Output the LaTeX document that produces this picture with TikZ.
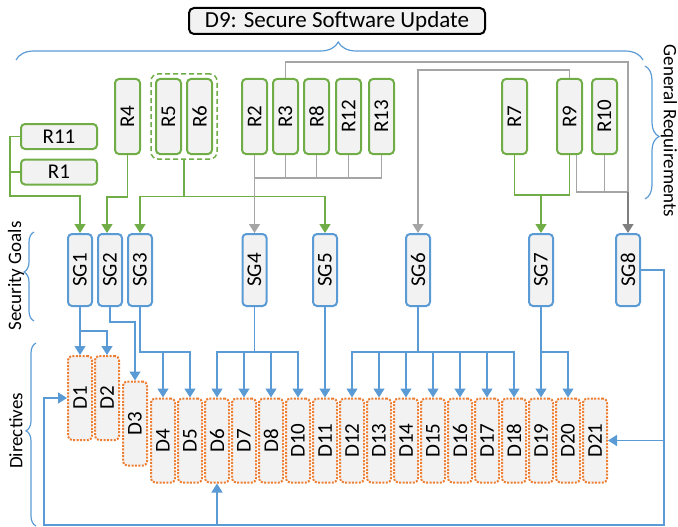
\documentclass[tikz,border=0pt]{standalone}
\usepackage{fontspec}
\setmainfont{Carlito}
\usepackage{graphicx}
\usepackage{tikz}
\usetikzlibrary{arrows.meta}
\usetikzlibrary{positioning}
\usetikzlibrary{fit}
\usetikzlibrary{decorations.pathreplacing}

\definecolor{reqgreen}{HTML}{70AD47}
\definecolor{goalblue}{HTML}{5B9BD5}
\definecolor{dirorange}{HTML}{ED7D31}
\definecolor{linkgray}{HTML}{A5A5A5}
\definecolor{darklink}{HTML}{7F7F7F}
\definecolor{boxfill}{HTML}{F2F2F2}

\newcommand{\vlab}[1]{\rotatebox{90}{#1}}

\begin{document}
\begin{tikzpicture}[x=1pt,y=-1pt]
            \tikzstyle{title node}=[draw=black,line width=2pt,rounded corners=5pt,fill=boxfill,minimum width=296pt,minimum height=26pt,inner sep=0pt,font=\fontsize{23}{23}\selectfont]
            \tikzstyle{req node}=[draw=reqgreen,line width=2pt,rounded corners=4pt,fill=boxfill,minimum width=25pt,minimum height=75pt,inner sep=0pt,font=\fontsize{21}{21}\selectfont]
            \tikzstyle{flat req node}=[req node,minimum width=76pt,minimum height=25pt]
            \tikzstyle{group node}=[draw=reqgreen,line width=1.5pt,dash pattern=on 5pt off 3pt,rounded corners=7pt,inner sep=4pt]
            \tikzstyle{goal node}=[draw=goalblue,line width=2pt,rounded corners=4pt,fill=boxfill,minimum width=24pt,minimum height=72pt,inner sep=0pt,font=\fontsize{21}{21}\selectfont]
            \tikzstyle{dir node}=[draw=dirorange,line width=2pt,dash pattern=on 2pt off 1.4pt,rounded corners=4pt,fill=boxfill,minimum width=24pt,minimum height=84pt,inner sep=0pt,font=\fontsize{21}{21}\selectfont]
            \tikzstyle{side label}=[font=\fontsize{19}{19}\selectfont]
            \tikzstyle{brace line}=[draw=goalblue,line width=1.2pt,decorate]
            \tikzstyle{green link}=[draw=reqgreen,line width=1.4pt]
            \tikzstyle{gray link}=[draw=linkgray,line width=1.4pt]
            \tikzstyle{blue link}=[draw=goalblue,line width=1.4pt]
            \tikzstyle{green arrow}=[green link,-{Triangle[width=11pt,length=9pt]}]
            \tikzstyle{gray arrow}=[gray link,-{Triangle[width=11pt,length=9pt]}]
            \tikzstyle{dark arrow}=[draw=darklink,line width=1.4pt,-{Triangle[width=11pt,length=9pt]}]
            \tikzstyle{blue arrow}=[blue link,-{Triangle[width=11pt,length=9pt]}]
            \useasboundingbox (0,0) rectangle (678,527);

            % title and side labels
            \node[title node] (title) at (337,21) {D9: Secure Software Update};
            \node[side label,rotate=-90] (genreq) at (669,131) {General Requirements};
            \node[side label,rotate=90] (secgoals) at (16,276) {Security Goals};
            \node[side label,rotate=90] (directives) at (16,431) {Directives};

            % requirements
            \node[flat req node] (R11) at (59,136.5) {R11};
            \node[flat req node] (R1) at (59,172) {R1};
            \node[req node] (R4) at (127.5,116.5) {\vlab{R4}};
            \node[req node] (R5) at (168.5,116.5) {\vlab{R5}};
            \node[req node] (R6) [right=4pt of R5] {\vlab{R6}};
            \node[group node,fit=(R5)(R6)] (R56) {};
            \node[req node] (R2) at (254.5,116.5) {\vlab{R2}};
            \node[req node] (R3) [right=4pt of R2] {\vlab{R3}};
            \node[req node] (R8) [right=4pt of R3] {\vlab{R8}};
            \node[req node] (R12) [right=5pt of R8] {\vlab{R12}};
            \node[req node] (R13) [right=6pt of R12] {\vlab{R13}};
            \node[req node] (R7) at (514.5,116.5) {\vlab{R7}};
            \node[req node] (R9) at (569.5,116.5) {\vlab{R9}};
            \node[req node] (R10) [right=8pt of R9] {\vlab{R10}};

            % security goals
            \node[goal node] (SG1) at (80,270) {\vlab{SG1}};
            \node[goal node] (SG2) [right=4pt of SG1] {\vlab{SG2}};
            \node[goal node] (SG3) [right=4pt of SG2] {\vlab{SG3}};
            \node[goal node] (SG4) at (254.5,270) {\vlab{SG4}};
            \node[goal node] (SG5) at (325,270) {\vlab{SG5}};
            \node[goal node] (SG6) at (418,270) {\vlab{SG6}};
            \node[goal node] (SG7) at (541,270) {\vlab{SG7}};
            \node[goal node] (SG8) at (628,270) {\vlab{SG8}};

            % directives
            \node[dir node] (D1) at (80,398) {\vlab{D1}};
            \node[dir node] (D2) [right=1pt of D1] {\vlab{D2}};
            \node[dir node] (D3) at (135,423.5) {\vlab{D3}};
            \node[dir node] (D4) at (163,440.5) {\vlab{D4}};
            \node[dir node] (D5) [right=1pt of D4] {\vlab{D5}};
            \node[dir node] (D6) [right=1pt of D5] {\vlab{D6}};
            \node[dir node] (D7) [right=1pt of D6] {\vlab{D7}};
            \node[dir node] (D8) [right=1pt of D7] {\vlab{D8}};
            \node[dir node] (D10) [right=1pt of D8] {\vlab{D10}};
            \node[dir node] (D11) [right=1pt of D10] {\vlab{D11}};
            \node[dir node] (D12) [right=1pt of D11] {\vlab{D12}};
            \node[dir node] (D13) [right=1pt of D12] {\vlab{D13}};
            \node[dir node] (D14) [right=1pt of D13] {\vlab{D14}};
            \node[dir node] (D15) [right=1pt of D14] {\vlab{D15}};
            \node[dir node] (D16) [right=1pt of D15] {\vlab{D16}};
            \node[dir node] (D17) [right=1pt of D16] {\vlab{D17}};
            \node[dir node] (D18) [right=1pt of D17] {\vlab{D18}};
            \node[dir node] (D19) [right=1pt of D18] {\vlab{D19}};
            \node[dir node] (D20) [right=1pt of D19] {\vlab{D20}};
            \node[dir node] (D21) [right=1pt of D20] {\vlab{D21}};

            % braces
            \draw[brace line,decoration={brace,amplitude=18pt,aspect=0.514}] (16,60) -- (643,60);
            \draw[brace line,decoration={brace,amplitude=14pt,aspect=0.53}] (645,66) -- (645,199);
            \draw[brace line,decoration={brace,amplitude=10pt,aspect=0.55}] (34,321) -- (34,232);
            \draw[brace line,decoration={brace,amplitude=10pt,aspect=0.52}] (36,526) -- (36,343);

            % requirements to goals
            \draw[green arrow] (R11.west) -| (10,196) -| (SG1.north);
            \draw[green link] (R1.west) -- ++(-10,0);
            \draw[green arrow] (R4.south) -- ++(0,42) -| ([xshift=-3pt]SG2.north);
            \draw[green link] (R56.south) -- ++(0,37) coordinate (g56);
            \draw[green arrow] (g56) -| (SG3.north);
            \draw[green arrow] (g56) -| (SG5.north);
            \draw[green link] (R7.south) -- ++(0,40) coordinate (g7) -| (R9.south);
            \draw[green arrow] (g7 -| SG7.north) -- (SG7.north);

            \path (R2.south) ++(0,23) coordinate (gbus);
            \draw[gray arrow] (R2.south) -- (SG4.north);
            \draw[gray link] (R13.south) |- (gbus);
            \draw[gray link] (R3.south) -- (R3.south |- gbus);
            \draw[gray link] (R8.south) -- (R8.south |- gbus);
            \draw[gray link] (R12.south) -- (R12.south |- gbus);
            \draw[gray arrow] (R9.north) -- ++(0,-8) -| (SG6.north);
            \coordinate (g9) at ([shift={(7,37)}]R9.south);
            \draw[gray link] (R3.north) -- ++(0,-16) -| (g9 -| SG8.north);
            \draw[gray link] ([xshift=7pt]R9.south) |- (g9 -| SG8.north);
            \draw[gray link] (R10.south) -- (R10.south |- g9);
            \draw[dark arrow] (g9 -| SG8.north) -- (SG8.north);

            % goals to directives
            \draw[blue arrow] (SG1.south) -- (D1.north);
            \draw[blue arrow] (SG1.south) -- ++(0,24) -| (D2.north);
            \draw[blue arrow] (SG2.south) -- ++(0,15) -| (D3.north);
            \draw[blue arrow] (SG3.south) -- ++(0,45) -| (D4.north);
            \draw[blue arrow] (SG3.south) -- ++(0,45) -| (D5.north);
            \foreach \d in {D6,D7,D8,D10}
                \draw[blue arrow] (SG4.south) -- ++(0,45) -| (\d.north);
            \draw[blue arrow] (SG5.south) -- (D11.north);
            \foreach \d in {D12,D13,D14,D15,D16,D17,D18}
                \draw[blue arrow] (SG6.south) -- ++(0,45) -| (\d.north);
            \draw[blue arrow] (SG7.south) -- (D19.north);
            \draw[blue arrow] (SG7.south) -- ++(0,45) -| (D20.north);

            % feedback loop
            \coordinate (loopR) at (664,525);
            \coordinate (loopL) at (44,525);
            \draw[blue arrow] (SG8.east) -| (loopR) -- (loopL) |- (D1.west);
            \draw[blue arrow] (loopR) |- (D21.east);
            \draw[blue arrow] (D6.south |- loopR) -- (D6.south);
        \end{tikzpicture}
\end{document}
